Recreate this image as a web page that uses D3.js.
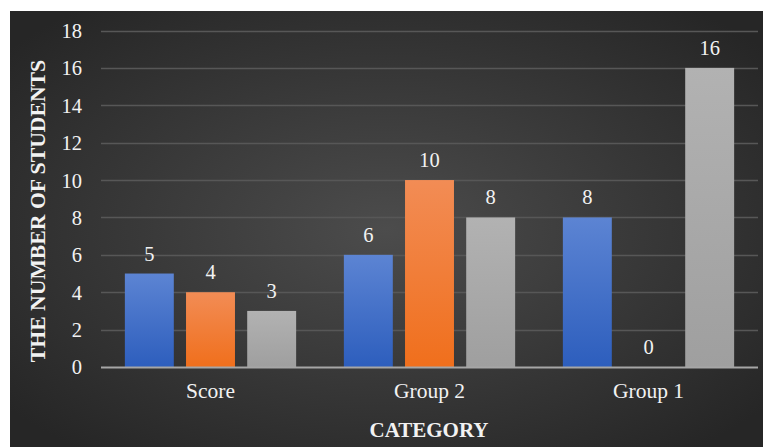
<!DOCTYPE html>
<html><head><meta charset="utf-8">
<script src="https://cdn.jsdelivr.net/npm/d3@7"></script>
<style>html,body{margin:0;padding:0;background:#fff;}svg{display:block;}</style>
</head><body>
<svg id="chart" width="763" height="447"></svg>
<script>
const categories = ["Score", "Group 2", "Group 1"];
const seriesNames = ["Series 1", "Series 2", "Series 3"];
const series1 = [5, 6, 8];
const series2 = [4, 10, 0];
const series3 = [3, 8, 16];
const yTicks = [0, 2, 4, 6, 8, 10, 12, 14, 16, 18];
const yTitle = "THE NUMBER OF STUDENTS";
const xTitle = "CATEGORY";

const seriesValues = [series1, series2, series3];
const svg = d3.select("#chart");
const W = 763, H = 447;
const font = "'Liberation Serif','Times New Roman',serif";

const defs = svg.append("defs");
const bg = defs.append("radialGradient").attr("id", "bg")
  .attr("cx", "50%").attr("cy", "50%").attr("r", "65%");
bg.append("stop").attr("offset", "0%").attr("stop-color", "#4c4c4c");
bg.append("stop").attr("offset", "100%").attr("stop-color", "#262626");

const grads = [["#5c84d3", "#2d5ebd"], ["#f28c55", "#f06f1c"], ["#b2b2b2", "#9f9f9f"]];
grads.forEach((g, i) => {
  const lg = defs.append("linearGradient").attr("id", "g" + i)
    .attr("x1", 0).attr("y1", 0).attr("x2", 0).attr("y2", 1);
  lg.append("stop").attr("offset", "0%").attr("stop-color", g[0]);
  lg.append("stop").attr("offset", "100%").attr("stop-color", g[1]);
});

svg.append("rect").attr("x", 10).attr("y", 11).attr("width", W - 10).attr("height", H - 11)
  .attr("fill", "url(#bg)");

const plot = {left: 101, right: 758, top: 30.5, bottom: 367};
const y = d3.scaleLinear().domain([0, 18]).range([plot.bottom, plot.top]);
const x0 = d3.scaleBand().domain(categories).range([plot.left, plot.right]).padding(0);
const x1 = d3.scaleBand().domain(d3.range(3)).range([0, x0.bandwidth()])
  .paddingInner(0.2).paddingOuter(0.39);

// gridlines
svg.append("g").selectAll("line").data(yTicks.filter(d => d > 0)).join("line")
  .attr("x1", plot.left).attr("x2", plot.right)
  .attr("y1", d => Math.round(y(d)) + 0.5).attr("y2", d => Math.round(y(d)) + 0.5)
  .attr("stroke", "#575757").attr("stroke-width", 1.5);

// y axis labels
const yAxis = d3.axisLeft(y).tickValues(yTicks).tickSize(0).tickPadding(0);
const yg = svg.append("g").attr("transform", `translate(82,0)`).call(yAxis);
yg.select(".domain").remove();
yg.selectAll("text").attr("fill", "#f2f2f2").style("font-family", font).style("font-size", "20.5px")
  .attr("dy", "0.34em");

// bars
const groups = svg.append("g").selectAll("g").data(categories).join("g")
  .attr("transform", d => `translate(${x0(d)},0)`);
groups.each(function(cat, ci) {
  const g = d3.select(this);
  const vals = seriesValues.map((s, si) => ({si, v: s[ci]}));
  g.selectAll("rect").data(vals).join("rect")
    .attr("x", d => x1(d.si)).attr("width", x1.bandwidth())
    .attr("y", d => y(d.v)).attr("height", d => y(0) - y(d.v))
    .attr("fill", d => `url(#g${d.si})`);
  g.selectAll("text").data(vals).join("text")
    .attr("x", d => x1(d.si) + x1.bandwidth() / 2)
    .attr("y", d => y(d.v) - 13)
    .attr("text-anchor", "middle").attr("fill", "#f2f2f2")
    .style("font-family", font).style("font-size", "20.5px")
    .text(d => d.v);
});

// x axis line
svg.append("line").attr("x1", plot.left).attr("x2", plot.right)
  .attr("y1", plot.bottom + 0.5).attr("y2", plot.bottom + 0.5)
  .attr("stroke", "#a6a6a6").attr("stroke-width", 2);

// x axis labels
const xAxis = d3.axisBottom(x0).tickSize(0).tickPadding(0);
const xg = svg.append("g").attr("transform", `translate(0,${plot.bottom})`).call(xAxis);
xg.select(".domain").remove();
xg.selectAll("text").attr("fill", "#f2f2f2").style("font-family", font).style("font-size", "21.5px")
  .attr("dy", null).attr("y", 31);

// titles
svg.append("text").attr("x", 429).attr("y", 437).attr("text-anchor", "middle")
  .attr("fill", "#f2f2f2").style("font-family", font).style("font-size", "21px").style("font-weight", "bold")
  .text(xTitle);
svg.append("text").attr("transform", `translate(45,211) rotate(-90)`)
  .attr("text-anchor", "middle")
  .attr("fill", "#f2f2f2").style("font-family", font).style("font-size", "21.7px").style("font-weight", "bold")
  .text(yTitle);
</script>
</body></html>
